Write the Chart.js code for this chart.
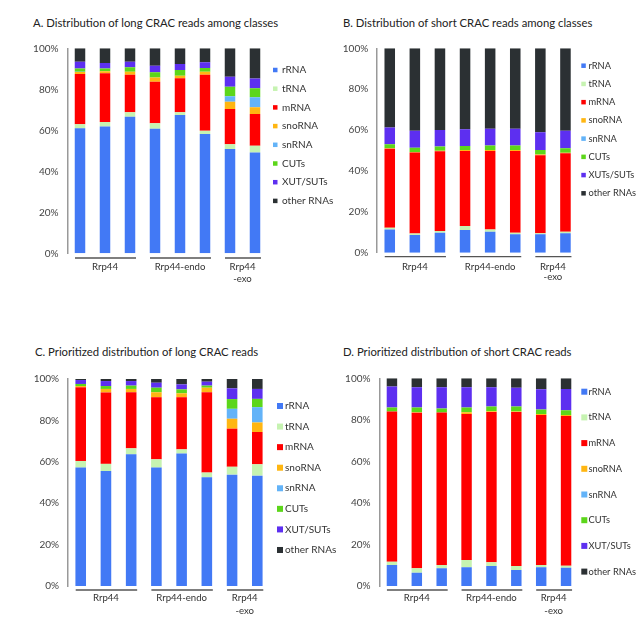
<!DOCTYPE html>
<html>
<head>
<meta charset="utf-8">
<script src="https://cdn.jsdelivr.net/npm/chart.js@4.4.0/dist/chart.umd.min.js"></script>
<style>
  body { margin: 0; background: #fff; }
  #wrap { position: relative; width: 637px; height: 617px; overflow: hidden; }
  canvas { position: absolute; }
  .title { position: absolute; font-family: Lato, sans-serif; font-size: 11.3px; color: #222; white-space: nowrap; line-height: 16px; }
</style>
</head>
<body>
<div id="wrap">
  <div class="title" style="left:33px;top:15px">A. Distribution of long CRAC reads among classes</div>
  <div class="title" style="left:343px;top:15px">B. Distribution of short CRAC reads among classes</div>
  <div class="title" style="left:35px;top:344px">C. Prioritized distribution of long CRAC reads</div>
  <div class="title" style="left:343px;top:344px">D. Prioritized distribution of short CRAC reads</div>
  <canvas id="cA" width="342" height="300" style="left:0;top:0"></canvas>
  <canvas id="cB" width="319" height="300" style="left:318px;top:0"></canvas>
  <canvas id="cC" width="346" height="317" style="left:0;top:300px"></canvas>
  <canvas id="cD" width="319" height="317" style="left:318px;top:300px"></canvas>
</div>
<script>
// categorias y colores
const classes = ['rRNA', 'tRNA', 'mRNA', 'snoRNA', 'snRNA', 'CUTs', 'XUT/SUTs', 'other RNAs'];
const classesB = ['rRNA', 'tRNA', 'mRNA', 'snoRNA', 'snRNA', 'CUTs', 'XUTs/SUTs', 'other RNAs'];
const colors = ['#4279f5', '#c6f3b1', '#ff0000', '#ffb612', '#63b3f8', '#5cd61a', '#5d2ff0', '#2b3033'];
const samples = ['Rrp44 a', 'Rrp44 b', 'Rrp44 c', 'endo a', 'endo b', 'endo c', 'exo a', 'exo b'];
const groupNames = [['Rrp44'], ['Rrp44-endo'], ['Rrp44', '-exo']];
const groupFirst = [0, 3, 6];
const groupLast = [2, 5, 7];
const yTicks = [0, 20, 40, 60, 80, 100];

// A. long reads among classes (%)
const aRRNA  = [61.0, 61.8, 66.6, 60.8, 67.5, 58.2, 50.9, 49.2];
const aTRNA  = [2.0, 2.2, 2.2, 2.6, 1.3, 1.6, 2.3, 3.3];
const aMRNA  = [24.5, 23.8, 18.3, 20.3, 16.6, 27.3, 17.2, 15.4];
const aSno   = [1.0, 1.0, 1.5, 2.0, 1.2, 1.5, 3.5, 3.3];
const aSn    = [0.1, 0, 0, 0, 0, 0, 2.7, 4.9];
const aCUT   = [1.6, 1.4, 2.1, 2.6, 2.8, 1.8, 4.7, 4.4];
const aXUT   = [3.3, 2.6, 2.8, 3.2, 2.9, 2.8, 4.8, 4.8];
const aOther = [6.5, 7.2, 6.5, 8.5, 7.7, 6.8, 13.9, 14.7];

// B. short reads among classes (%)
const bRRNA  = [11.4, 8.6, 9.8, 11.1, 10.3, 9.0, 9.0, 9.5];
const bTRNA  = [0.8, 0.8, 0.8, 2.0, 1.1, 0.8, 0.5, 0.8];
const bMRNA  = [38.6, 39.6, 39.0, 36.7, 38.4, 40.0, 38.2, 38.3];
const bSno   = [0.3, 0.3, 0.3, 0.4, 0.4, 0.4, 0.3, 0.3];
const bSn    = [0, 0, 0, 0, 0, 0, 0, 0];
const bCUT   = [2.0, 2.1, 2.0, 2.0, 2.2, 2.2, 2.2, 2.2];
const bXUT   = [8.2, 8.3, 8.1, 8.2, 8.3, 8.3, 8.7, 8.6];
const bOther = [38.7, 40.3, 40.0, 39.6, 39.3, 39.3, 41.1, 40.3];

// C. prioritized long reads (%)
const cRRNA  = [57.2, 55.5, 63.6, 57.2, 64.0, 52.5, 53.8, 53.3];
const cTRNA  = [3.2, 3.5, 2.9, 4.0, 2.0, 2.3, 3.8, 5.5];
const cMRNA  = [35.6, 34.5, 27.1, 30.0, 25.2, 38.8, 18.4, 15.6];
const cSno   = [0.6, 1.7, 1.6, 2.4, 1.9, 2.2, 4.8, 4.6];
const cSn    = [0, 0, 0, 0, 0, 0, 4.8, 7.4];
const cCUT   = [1.0, 1.4, 1.6, 2.2, 1.9, 1.0, 4.7, 4.0];
const cXUT   = [1.9, 2.4, 2.2, 2.4, 2.4, 1.9, 5.2, 4.8];
const cOther = [0.5, 1.0, 1.0, 1.8, 2.6, 1.3, 4.5, 4.8];

// D. prioritized short reads (%)
const dRRNA  = [10.1, 6.4, 8.5, 9.0, 9.6, 7.7, 9.0, 8.8];
const dTRNA  = [1.6, 2.1, 1.6, 3.5, 1.8, 1.9, 1.1, 1.0];
const dMRNA  = [72.3, 74.9, 73.4, 70.3, 72.4, 74.2, 72.2, 72.1];
const dSno   = [0, 0.2, 0, 0.8, 0.3, 0.2, 0.5, 0.4];
const dSn    = [0, 0, 0, 0, 0, 0, 0, 0];
const dCUT   = [2.0, 2.3, 2.0, 2.3, 2.3, 2.4, 2.2, 2.3];
const dXUT   = [10.0, 9.8, 10.2, 9.8, 9.3, 9.1, 9.7, 10.3];
const dOther = [4.0, 4.3, 4.3, 4.3, 4.3, 4.5, 5.3, 5.1];

// leyenda a la derecha, dibujada a mano
const sideLegend = {
  id: 'sideLegend',
  afterDraw(chart, args, o) {
    const ctx = chart.ctx;
    ctx.save();
    ctx.font = o.size + 'px Lato';
    ctx.textBaseline = 'middle';
    ctx.textAlign = 'left';
    chart.data.datasets.forEach((ds, i) => {
      const y = o.y + i * o.step;
      ctx.fillStyle = ds.backgroundColor;
      ctx.fillRect(o.x, y - o.box / 2, o.box, o.box);
      ctx.fillStyle = '#333';
      ctx.fillText(ds.label, o.textX, y);
    });
    ctx.restore();
  }
};

// lineas y nombres de grupo debajo de las barras
const groupAxis = {
  id: 'groupAxis',
  afterDraw(chart, args, o) {
    const x = chart.scales.x, ctx = chart.ctx;
    ctx.save();
    ctx.strokeStyle = '#555';
    ctx.lineWidth = 1.3;
    ctx.fillStyle = '#333';
    ctx.font = o.size + 'px Lato';
    ctx.textAlign = 'center';
    ctx.textBaseline = 'middle';
    groupFirst.forEach((f, g) => {
      const p1 = x.getPixelForValue(f), p2 = x.getPixelForValue(groupLast[g]);
      ctx.beginPath();
      ctx.moveTo(p1 - 5, o.lineY);
      ctx.lineTo(p2 + 6, o.lineY);
      ctx.stroke();
      groupNames[g].forEach((t, k) => ctx.fillText(t, (p1 + p2) / 2, o.labelY + k * o.gap));
    });
    ctx.restore();
  }
};

function makePanel(id, labels, series, lay) {
  new Chart(document.getElementById(id), {
    type: 'bar',
    data: {
      labels: samples,
      datasets: series.map((s, i) => ({
        label: labels[i],
        data: s,
        backgroundColor: colors[i],
        borderWidth: 0,
        barPercentage: 0.42,
        categoryPercentage: 1
      }))
    },
    options: {
      responsive: false,
      animation: false,
      layout: { padding: { left: 0, right: lay.padR, top: lay.padT, bottom: lay.padB } },
      scales: {
        x: { stacked: true, display: false },
        y: {
          stacked: true,
          min: 0,
          max: 100,
          afterFit: s => { s.width = lay.axisX; },
          afterBuildTicks: s => { s.ticks = yTicks.map(v => ({ value: v })); },
          grid: { display: false, drawTicks: false },
          border: { display: true, color: '#999', width: 1.5 },
          ticks: {
            padding: 9,
            color: '#444',
            font: { family: 'Lato', size: 10 },
            callback: v => v + '%'
          }
        }
      },
      plugins: {
        legend: { display: false },
        tooltip: { enabled: false },
        sideLegend: lay.legend,
        groupAxis: lay.groups
      }
    },
    plugins: [sideLegend, groupAxis]
  });
}

makePanel('cA', classes, [aRRNA, aTRNA, aMRNA, aSno, aSn, aCUT, aXUT, aOther], {
  axisX: 67.5, padR: 74.5, padT: 48.3, padB: 46.7,
  legend: { x: 273, textX: 282, y: 70, step: 18.7, box: 4.5, size: 10 },
  groups: { lineY: 258, labelY: 266.5, gap: 12.5, size: 9.6 }
});
makePanel('cB', classesB, [bRRNA, bTRNA, bMRNA, bSno, bSn, bCUT, bXUT, bOther], {
  axisX: 59.2, padR: 59, padT: 48.3, padB: 47.3,
  legend: { x: 263.3, textX: 270.5, y: 65.7, step: 18.23, box: 4.5, size: 9.3 },
  groups: { lineY: 256.7, labelY: 266.7, gap: 10.5, size: 9.6 }
});
makePanel('cC', classes, [cRRNA, cTRNA, cMRNA, cSno, cSn, cCUT, cXUT, cOther], {
  axisX: 68.1, padR: 76.1, padT: 79, padB: 31,
  legend: { x: 277, textX: 285, y: 106, step: 20.57, box: 6, size: 10 },
  groups: { lineY: 290, labelY: 298.3, gap: 13, size: 9.6 }
});
makePanel('cD', classes, [dRRNA, dTRNA, dMRNA, dSno, dSn, dCUT, dXUT, dOther], {
  axisX: 61.5, padR: 58.5, padT: 78.3, padB: 31,
  legend: { x: 263.3, textX: 270.5, y: 91.7, step: 25.7, box: 6, size: 9.3 },
  groups: { lineY: 290, labelY: 297.7, gap: 13.5, size: 9.6 }
});
</script>
</body>
</html>
